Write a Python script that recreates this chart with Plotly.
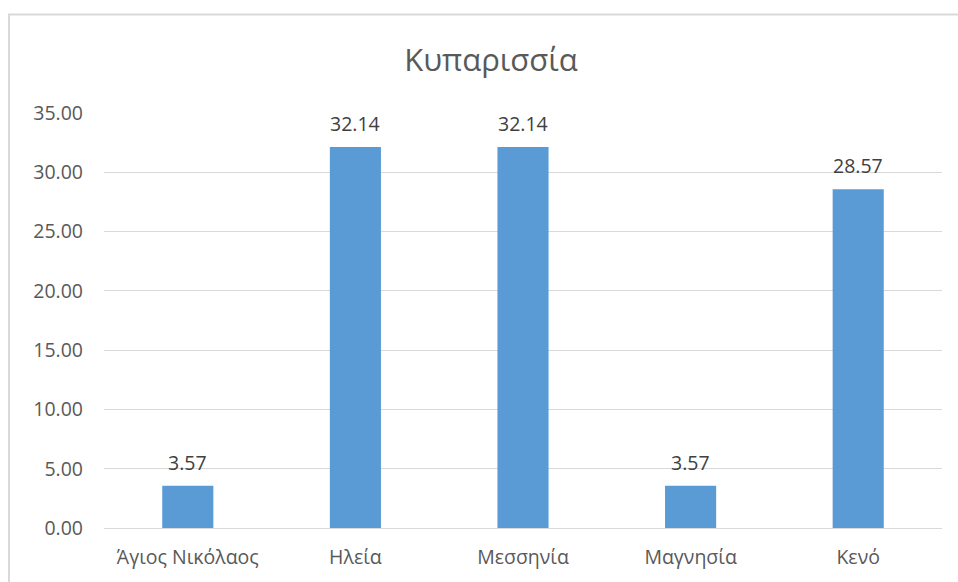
import plotly.graph_objects as go

categories = ["Άγιος Νικόλαος", "Ηλεία", "Μεσσηνία", "Μαγνησία", "Κενό"]
values = [3.57, 32.14, 32.14, 3.57, 28.57]
tick_vals = [0, 5, 10, 15, 20, 25, 30, 35]
tick_text = ["0.00", "5.00", "10.00", "15.00", "20.00", "25.00", "30.00", "35.00"]

W, H = 958, 582
L, R, T, B = 104, 16, 113, 52
pw, ph = W - L - R, H - T - B

fig = go.Figure(go.Bar(
    x=categories, y=values,
    marker=dict(color="#5B9BD5", line=dict(width=0)),
    cliponaxis=False,
))

for c, v in zip(categories, values):
    fig.add_annotation(x=c, y=v, text=f"{v:.2f}", showarrow=False,
                       yanchor="bottom", yshift=8,
                       font=dict(size=19.5, color="#404040", family="Open Sans"))

fig.update_layout(
    width=W, height=H,
    margin=dict(l=L, r=R, t=T, b=B),
    paper_bgcolor="white", plot_bgcolor="white",
    bargap=0.695,
    title=dict(text="Κυπαρισσία", x=491 / W, xanchor="center",
               y=1 - 60 / H, yanchor="middle",
               font=dict(size=31, color="#595959", family="Open Sans")),
    font=dict(family="Open Sans", color="#595959", size=19.5),
    showlegend=False,
    xaxis=dict(showgrid=False, showline=False, ticks="", ticklabelstandoff=15,
               tickfont=dict(size=19.5, color="#595959")),
    yaxis=dict(range=[0, 35], tickvals=tick_vals, ticktext=tick_text, showgrid=True,
               gridcolor="#D9D9D9", gridwidth=1, zeroline=True, zerolinecolor="#D9D9D9",
               zerolinewidth=1, showline=False, ticks="", ticklabelstandoff=20,
               tickfont=dict(size=19.5, color="#595959")),
    shapes=[dict(type="rect", xref="paper", yref="paper",
                 x0=(9 - L) / pw, x1=(W + 30 - L) / pw,
                 y0=-(H + 30 - T - ph) / ph - 0.1, y1=(T + ph - 14) / ph,
                 line=dict(color="#D9D9D9", width=2), layer="below")],
)

fig.write_html("out.html", config={"displayModeBar": False},
               post_script="document.body.style.margin='0';document.body.style.overflow='hidden';")
